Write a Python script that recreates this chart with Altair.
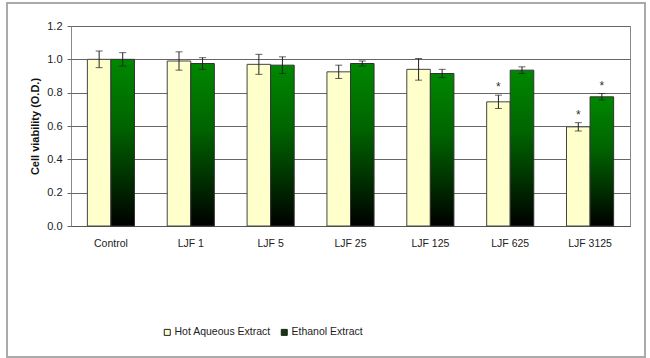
import altair as alt
import pandas as pd

categories = ["Control", "LJF 1", "LJF 5", "LJF 25", "LJF 125", "LJF 625", "LJF 3125"]
series_names = ["Hot Aqueous Extract", "Ethanol Extract"]
hot_values = [1.00, 0.99, 0.97, 0.925, 0.94, 0.745, 0.595]
hot_errors = [0.05, 0.055, 0.06, 0.04, 0.065, 0.04, 0.025]
hot_sig = ["", "", "", "", "", "*", "*"]
eth_values = [1.00, 0.975, 0.965, 0.975, 0.915, 0.935, 0.775]
eth_errors = [0.04, 0.035, 0.05, 0.015, 0.025, 0.02, 0.02]
eth_sig = ["", "", "", "", "", "", "*"]
y_ticks = [0, 0.2, 0.4, 0.6, 0.8, 1.0, 1.2]

rows = []
for i, c in enumerate(categories):
    rows.append(dict(cat=c, series=series_names[0], v=hot_values[i], lo=hot_values[i] - hot_errors[i],
                     hi=hot_values[i] + hot_errors[i], sig=hot_sig[i]))
    rows.append(dict(cat=c, series=series_names[1], v=eth_values[i], lo=eth_values[i] - eth_errors[i],
                     hi=eth_values[i] + eth_errors[i], sig=eth_sig[i]))
df = pd.DataFrame(rows)

FONT = "Liberation Sans Narrow, Liberation Sans, Arial"

x_enc = alt.X("cat:N", sort=categories,
              scale=alt.Scale(paddingInner=0.41, paddingOuter=0.205),
              axis=alt.Axis(title=None, labelAngle=0, ticks=False, labelPadding=12,
                            labelFontSize=10.5, labelColor="#222", domainColor="#555",
                            labelFont=FONT))
xoff = alt.XOffset("series:N", sort=series_names, scale=alt.Scale(paddingInner=0, paddingOuter=0))
y_scale = alt.Scale(domain=[0, 1.2], nice=False)

base = alt.Chart(df)

hot = base.transform_filter(alt.datum.series == series_names[0]).mark_bar(
    stroke="#444", strokeWidth=1
).encode(
    x=x_enc, xOffset=xoff,
    y=alt.Y("v:Q", scale=y_scale,
            axis=alt.Axis(title="Cell viability (O.D.)", values=y_ticks, tickCount=7,
                          labelOverlap=False,
                          format=".1f", gridColor="#666", gridWidth=1, tickColor="#666", tickSize=4,
                          labelPadding=5, labelFontSize=11, labelColor="#222", domain=False,
                          titleFontSize=11, titleFontWeight="bold", titlePadding=6,
                          titleColor="#111", labelFont=FONT, titleFont=FONT)),
    color=alt.Color("series:N", sort=series_names,
                    scale=alt.Scale(domain=series_names, range=["#FFFFCC", "#0b3d0b"]),
                    legend=alt.Legend(title=None, orient="none", legendX=91, legendY=301,
                                      direction="horizontal", symbolType="square", symbolSize=36,
                                      symbolStrokeColor="#222", symbolStrokeWidth=1,
                                      labelFontSize=10.5, labelFont=FONT, labelColor="#222",
                                      labelOffset=2, columnPadding=8)),
)

green_grad = alt.Gradient(gradient="linear",
                          stops=[alt.GradientStop(color="#008800", offset=0),
                                 alt.GradientStop(color="#006400", offset=0.4),
                                 alt.GradientStop(color="#000000", offset=1)],
                          x1=0, x2=0, y1=0, y2=1)

eth = base.transform_filter(alt.datum.series == series_names[1]).mark_bar(
    fill=green_grad, stroke="#333", strokeWidth=1
).encode(x=x_enc, xOffset=xoff, y=alt.Y("v:Q", scale=y_scale))

err = base.mark_rule(color="#222", strokeWidth=1).encode(
    x=x_enc, xOffset=xoff, y=alt.Y("lo:Q", scale=y_scale), y2="hi:Q")
cap_hi = base.mark_tick(color="#222", size=7, thickness=1).encode(
    x=x_enc, xOffset=xoff, y=alt.Y("hi:Q", scale=y_scale))
cap_lo = base.mark_tick(color="#222", size=7, thickness=1).encode(
    x=x_enc, xOffset=xoff, y=alt.Y("lo:Q", scale=y_scale))
stars = base.mark_text(baseline="bottom", dy=-1, fontSize=12, color="#333", font=FONT).encode(
    x=x_enc, xOffset=xoff, y=alt.Y("hi:Q", scale=y_scale), text="sig:N")

frame = alt.Chart(pd.DataFrame({"a": [0]})).mark_rect(
    fill=None, stroke="#aaa", strokeWidth=2, clip=False
).encode(x=alt.value(-64), x2=alt.value(574), y=alt.value(-23), y2=alt.value(331))

chart = alt.layer(frame, hot, eth, err, cap_hi, cap_lo, stars).properties(
    width=559, height=200,
    autosize=alt.AutoSizeParams(type="none"),
    padding={"left": 71, "top": 26, "right": 20, "bottom": 132},
    background="white",
).configure_view(stroke="#888", strokeWidth=1)

chart.save("out.html", embed_options={"renderer": "svg", "actions": False})
